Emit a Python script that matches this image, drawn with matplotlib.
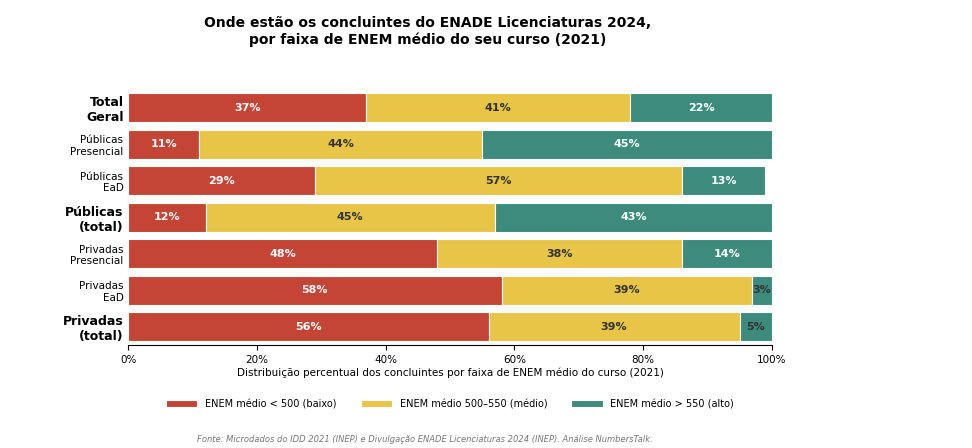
import numpy as np
import matplotlib
matplotlib.use("Agg")
import matplotlib.pyplot as plt

categories = ["Total\nGeral", "Públicas\nPresencial", "Públicas\nEaD", "Públicas\n(total)",
              "Privadas\nPresencial", "Privadas\nEaD", "Privadas\n(total)"]
bold_rows = [0, 3, 6]
baixo = [37, 11, 29, 12, 48, 58, 56]
medio = [41, 44, 57, 45, 38, 39, 39]
alto = [22, 45, 13, 43, 14, 3, 5]

series = [
    (baixo, "#c44536", "ENEM médio < 500 (baixo)"),
    (medio, "#e8c547", "ENEM médio 500–550 (médio)"),
    (alto, "#3d8b7d", "ENEM médio > 550 (alto)"),
]

fig = plt.figure(figsize=(9.72, 4.48), dpi=100)
ax = fig.add_axes([0.132, 0.23, 0.662, 0.57])

y = np.arange(len(categories))
left = np.zeros(len(categories))
for vals, color, label in series:
    vals = np.array(vals, dtype=float)
    ax.barh(y, vals, left=left, color=color, height=0.8, label=label,
            edgecolor="white", linewidth=0.8)
    for yi, (l, v) in enumerate(zip(left, vals)):
        if v < 7 or color == "#e8c547":
            tc = "#333333"
        else:
            tc = "white"
        ax.text(l + v / 2, yi, f"{v:.0f}%", ha="center", va="center",
                fontsize=8, fontweight="bold", color=tc)
    left += vals

ax.set_ylim(len(categories) - 0.5, -0.5)
ax.set_xlim(0, 100)
ax.set_yticks(y)
ax.set_yticklabels(categories)
for i, t in enumerate(ax.get_yticklabels()):
    if i in bold_rows:
        t.set_fontweight("bold")
        t.set_fontsize(9)
    else:
        t.set_fontsize(7.5)
ax.tick_params(axis="y", length=0)
ax.set_xticks(range(0, 101, 20))
ax.set_xticklabels([f"{v}%" for v in range(0, 101, 20)], fontsize=7.5)
ax.set_xlabel("Distribuição percentual dos concluintes por faixa de ENEM médio do curso (2021)",
              fontsize=7.5, labelpad=2)
for s in ["top", "right", "left"]:
    ax.spines[s].set_visible(False)

fig.text(0.44, 0.93, "Onde estão os concluintes do ENADE Licenciaturas 2024,\npor faixa de ENEM médio do seu curso (2021)",
         ha="center", va="center", fontsize=10, fontweight="bold")
fig.legend(loc="center", bbox_to_anchor=(0.463, 0.098), ncol=3, frameon=False,
           fontsize=7, handlelength=3.2, columnspacing=2.5)
fig.text(0.437, 0.02, "Fonte: Microdados do IDD 2021 (INEP) e Divulgação ENADE Licenciaturas 2024 (INEP). Análise NumbersTalk.",
         ha="center", va="center", fontsize=6, style="italic", color="#777777")

fig.savefig("out.png", dpi=100)
